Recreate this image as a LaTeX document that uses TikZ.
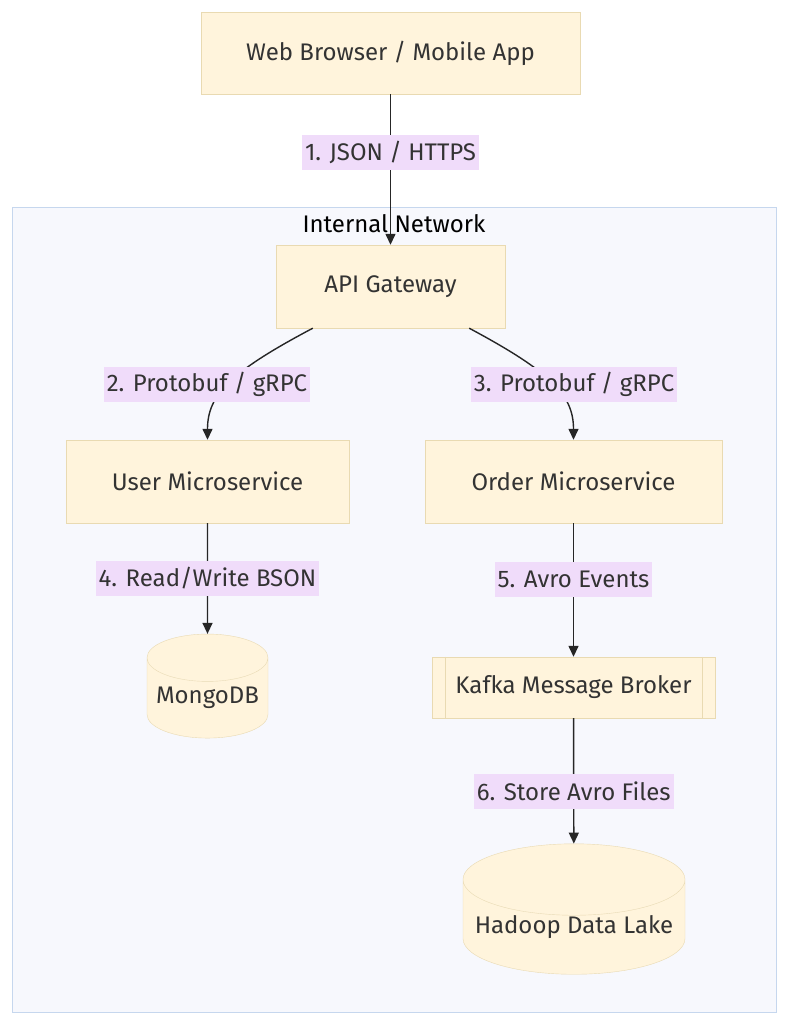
\documentclass[tikz,border=0pt]{standalone}
\usepackage{fontspec}
\setmainfont{Fira Sans}
\usetikzlibrary{arrows.meta, positioning, shapes.geometric}
\definecolor{nd}{HTML}{FFF4DC}
\definecolor{ndb}{HTML}{E9DAB2}
\definecolor{lb}{HTML}{F0DCFA}
\definecolor{cl}{HTML}{F7F8FD}
\definecolor{clb}{HTML}{C6D7EE}
\definecolor{tx}{HTML}{333333}

\begin{document}
\begin{tikzpicture}[x=1pt, y=-1pt, font=\fontsize{24}{28}\selectfont,
    box/.style={draw=ndb, fill=nd, text=tx, minimum height=83pt, inner sep=0pt},
    db/.style={cylinder, shape border rotate=90, draw=ndb, text=tx, cylinder uses custom fill,
      cylinder body fill=nd, cylinder end fill=nd, inner sep=0pt},
    lbl/.style={fill=lb, text=tx, minimum height=35pt, inner xsep=3pt, inner ysep=0pt},
    edge/.style={->, line width=1.4pt, draw=black!85},
    >={Triangle[length=11pt, width=10pt]}]
  \fill[white] (0,0) rectangle (788,1024);
  \useasboundingbox (0,0) rectangle (788,1024);

  % internal network
  \draw[draw=clb, fill=cl] (12,207) rectangle (776,1012);
  \node (net) at (394,224) {Internal Network};

  \node[box, minimum width=379pt, minimum height=82pt] (web) at (390.5,53) {Web Browser / Mobile App};
  \node[box, minimum width=229pt] (gw) at (390.5,286.5) {API Gateway};
  \node[box, minimum width=283pt] (usr) at (207.5,481.5) {User Microservice};
  \node[box, minimum width=297pt] (ord) at (573.5,481.5) {Order Microservice};
  \node[db, minimum width=121pt, minimum height=104pt, aspect=0.46] (mongo) at (207.5,698) {MongoDB};
  \node[box, minimum width=283pt, minimum height=61pt] (kafka) at (573.5,687.5) {Kafka Message Broker};
  \node[db, minimum width=222pt, minimum height=120pt, aspect=0.36] (lake) at (574,927) {Hadoop Data Lake};
  \draw[ndb] ([xshift=13pt]kafka.north west) -- ([xshift=13pt]kafka.south west);
  \draw[ndb] ([xshift=-13pt]kafka.north east) -- ([xshift=-13pt]kafka.south east);

  \draw[edge] (web) -- node[lbl, pos=0.384] {1. JSON / HTTPS} (gw);
  \draw[edge] ([xshift=37pt]gw.south west) .. controls (230,372) and (207.5,395) .. (usr.north);
  \draw[edge] ([xshift=-36pt]gw.south east) .. controls (551,372) and (573.5,395) .. (ord.north);
  \node[lbl] (l2) at (207,384.5) {2. Protobuf / gRPC};
  \node[lbl] (l3) at (574,384.5) {3. Protobuf / gRPC};
  \draw[edge] (usr) -- node[lbl] {4. Read/Write BSON} (mongo);
  \draw[edge] (ord) -- node[lbl, pos=0.42] {5. Avro Events} (kafka);
  \draw[edge] (kafka) -- node[lbl, pos=0.585] {6. Store Avro Files} (lake);
\end{tikzpicture}
\end{document}
